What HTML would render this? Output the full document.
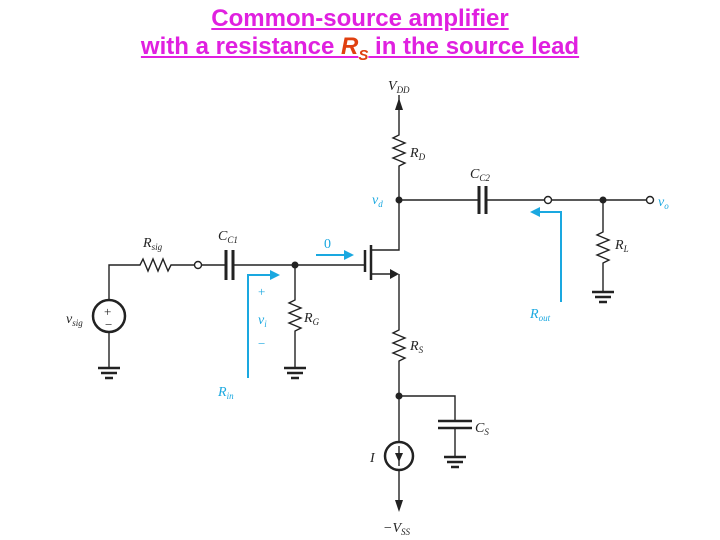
<!DOCTYPE html>
<html><head><style>
body{margin:0;width:720px;height:540px;background:#fff;overflow:hidden;position:relative;font-family:"Liberation Sans",sans-serif}
.t{position:absolute;left:0;width:720px;text-align:center;color:#e020e0;font-weight:bold;font-size:24px;text-decoration:underline;line-height:28px}
</style></head><body>
<div class="t" style="top:5px">Common-source amplifier</div>
<div class="t" style="top:33px">with a resistance <i style="color:#e04010">R<sub style="font-size:15px">S</sub></i> in the source lead</div>
<svg width="720" height="540" style="position:absolute;left:0;top:0" font-family="Liberation Serif" font-style="italic">
<g stroke="#222" stroke-width="1.4" fill="none">
<path d="M399 95V135l-6 3 12 5-12 5 12 5-12 5 12 5-6 3V250H372"/>
<path d="M399 200H479M486 200H545M551 200H647"/>
<path d="M479 186V214M486 186V214" stroke-width="3"/>
<circle cx="548" cy="200" r="3.5" fill="#fff"/>
<circle cx="650" cy="200" r="3.5" fill="#fff"/>
<path d="M603 200V232l-6 3 12 5-12 5 12 5-12 5 12 5-6 3V292"/>
<path d="M592 292H614M595 297H611M599 302H607" stroke-width="2.5"/>
<path d="M371 245V280" stroke-width="2.5"/>
<path d="M365 250V272" stroke-width="2.5"/>
<path d="M295 265H365M371 274H392"/>
<path d="M399 274V330l-6 3 12 5-12 5 12 5-12 5 12 5-6 3V442"/>
<path d="M399 470V505"/>
<path d="M399 396H455V421M455 428V457"/>
<path d="M438 421H472M438 428H472" stroke-width="2.5"/>
<path d="M444 457H466M447 462H463M451 467H459" stroke-width="2.5"/>
<circle cx="399" cy="456" r="14" stroke-width="2.5"/>
<path d="M399 446V466"/>
<path d="M109 300V265H140l3-6 5 12 5-12 5 12 5-12 5 12 3-6H195M201 265H226M233 265H295"/>
<path d="M226 250V280M233 250V280" stroke-width="3"/>
<circle cx="198" cy="265" r="3.5" fill="#fff"/>
<circle cx="109" cy="316" r="16" stroke-width="2.5"/>
<path d="M109 332V367"/>
<path d="M98 368H120M101 373H117M105 378H113" stroke-width="2.5"/>
<path d="M295 265V300l-6 3 12 5-12 5 12 5-12 5 12 5-6 3V367"/>
<path d="M284 368H306M287 373H303M291 378H299" stroke-width="2.5"/>
</g>
<g fill="#222">
<circle cx="399" cy="200" r="3.5"/><circle cx="603" cy="200" r="3.5"/><circle cx="295" cy="265" r="3.5"/><circle cx="399" cy="396" r="3.5"/>
<path d="M399 98l-4 12h8z"/>
<path d="M399 274l-9-5v10z"/>
<path d="M399 462l-4-9h8z"/>
<path d="M399 512l-4-12h8z"/>
</g>
<g fill="#222" font-size="14" stroke="none">
<text x="104" y="316" font-style="normal" font-size="13">+</text><text x="105" y="329" font-style="normal" font-size="13">−</text>
<text x="388" y="90">V<tspan font-size="9" dy="3">DD</tspan></text>
<text x="410" y="157">R<tspan font-size="9" dy="3">D</tspan></text>
<text x="470" y="178">C<tspan font-size="9" dy="3">C2</tspan></text>
<text x="615" y="249">R<tspan font-size="9" dy="3">L</tspan></text>
<text x="410" y="350">R<tspan font-size="9" dy="3">S</tspan></text>
<text x="475" y="432">C<tspan font-size="9" dy="3">S</tspan></text>
<text x="370" y="462">I</text>
<text x="383" y="532">−V<tspan font-size="9" dy="3">SS</tspan></text>
<text x="143" y="247">R<tspan font-size="9" dy="3">sig</tspan></text>
<text x="218" y="240">C<tspan font-size="9" dy="3">C1</tspan></text>
<text x="304" y="322">R<tspan font-size="9" dy="3">G</tspan></text>
<text x="66" y="323">v<tspan font-size="9" dy="3">sig</tspan></text>
</g>
<g stroke="#1aa8e0" stroke-width="2" fill="none">
<path d="M248 378V275H272"/>
<path d="M316 255H346"/>
<path d="M561 302V212H536"/>
</g>
<g fill="#1aa8e0">
<path d="M280 275l-10-5v10z"/><path d="M354 255l-10-5v10z"/><path d="M530 212l10-5v10z"/>
<text x="372" y="204" font-size="14">v<tspan font-size="9" dy="3">d</tspan></text>
<text x="658" y="206" font-size="14">v<tspan font-size="9" dy="3">o</tspan></text>
<text x="324" y="248" font-size="14" font-style="normal">0</text>
<text x="258" y="296" font-size="13" font-style="normal">+</text>
<text x="258" y="324" font-size="14">v<tspan font-size="9" dy="3">i</tspan></text>
<text x="258" y="348" font-size="13" font-style="normal">−</text>
<text x="218" y="396" font-size="14">R<tspan font-size="9" dy="3">in</tspan></text>
<text x="530" y="318" font-size="14">R<tspan font-size="9" dy="3">out</tspan></text>
</g>
</svg>
</body></html>
